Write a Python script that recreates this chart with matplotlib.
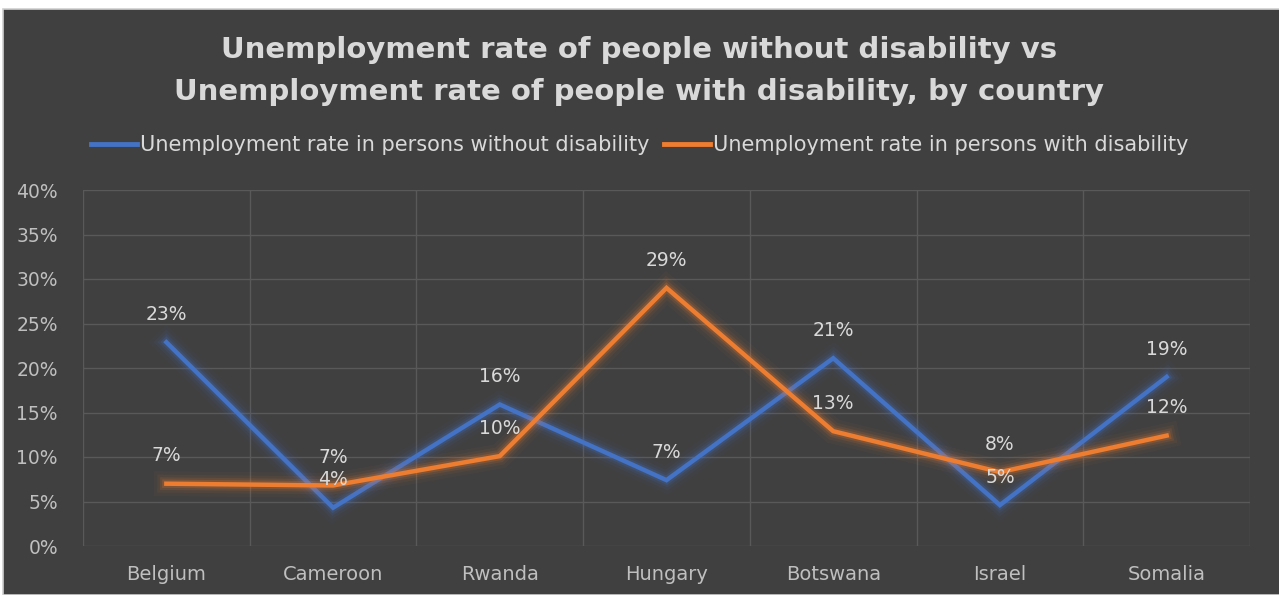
import matplotlib.pyplot as plt
import matplotlib.patheffects as pe
from matplotlib.lines import Line2D
from matplotlib.patches import Rectangle

countries = ["Belgium", "Cameroon", "Rwanda", "Hungary", "Botswana", "Israel", "Somalia"]
without_disability = [0.229, 0.043, 0.159, 0.074, 0.211, 0.046, 0.190]
with_disability = [0.070, 0.068, 0.101, 0.290, 0.129, 0.083, 0.124]
yticks = [0, 0.05, 0.10, 0.15, 0.20, 0.25, 0.30, 0.35, 0.40]

BG = "#404040"
TXT = "#d9d9d9"
BLUE = "#4472c4"
ORANGE = "#ed7d31"

plt.rcParams['font.family'] = ['DejaVu Sans']

fig = plt.figure(figsize=(12.79, 5.95), dpi=100, facecolor="white")

# dark chart panel below the white strip
panel = Rectangle((3 / 1279, 0), 1, (595 - 9) / 595, transform=fig.transFigure,
                  facecolor=BG, edgecolor="#d0d0d0", linewidth=1.2, zorder=-10)
fig.patches.append(panel)

# cut-off caption from the page above the chart (only descenders show)
fig.text(0.025, 1 + 5 / 595, "Key Study by Group: Unemployment by Disability among Countries",
         family="DejaVu Serif", fontweight="bold", fontsize=16, color="black",
         ha="left", va="baseline")

fig.text(0.5, 1 - 50 / 595, "Unemployment rate of people without disability vs",
         ha="center", va="center", fontsize=21, fontweight="bold", color=TXT)
fig.text(0.5, 1 - 92 / 595, "Unemployment rate of people with disability, by country",
         ha="center", va="center", fontsize=21, fontweight="bold", color=TXT)

ax = fig.add_axes([83 / 1279, 1 - 546 / 595, (1250 - 83) / 1279, (546 - 190) / 595])
ax.set_facecolor("none")

x = list(range(len(countries)))


def glow(color):
    return [pe.Stroke(linewidth=18, foreground=color, alpha=0.04),
            pe.Stroke(linewidth=13, foreground=color, alpha=0.07),
            pe.Stroke(linewidth=9, foreground=color, alpha=0.12),
            pe.Stroke(linewidth=6, foreground=color, alpha=0.2),
            pe.Normal()]


ax.plot(x, without_disability, color=BLUE, lw=3.2, solid_joinstyle="miter",
        path_effects=glow(BLUE), zorder=3)
ax.plot(x, with_disability, color=ORANGE, lw=3.2, solid_joinstyle="miter",
        path_effects=glow(ORANGE), zorder=4)

for xi, v in zip(x, without_disability):
    ax.annotate(f"{v * 100:.0f}%", (xi, v), xytext=(0, 20), textcoords="offset points",
                ha="center", va="center", fontsize=13.5, color=TXT, zorder=5)
for xi, v in zip(x, with_disability):
    ax.annotate(f"{v * 100:.0f}%", (xi, v), xytext=(0, 20), textcoords="offset points",
                ha="center", va="center", fontsize=13.5, color=TXT, zorder=5)

ax.set_xlim(-0.5, len(countries) - 0.5)
ax.set_ylim(0, 0.40)
ax.set_yticks(yticks)
ax.set_yticklabels([f"{t * 100:.0f}%" for t in yticks])
ax.set_xticks(x)
ax.set_xticklabels(countries)
ax.set_xticks([i - 0.5 for i in range(len(countries) + 1)], minor=True)

ax.grid(axis="y", color="#595959", lw=1)
ax.grid(axis="x", which="minor", color="#595959", lw=1)
ax.set_axisbelow(True)
for s in ax.spines.values():
    s.set_visible(False)
ax.tick_params(which="both", length=0)
ax.tick_params(axis="y", labelsize=13.5, labelcolor="#bfbfbf", pad=18)
ax.tick_params(axis="x", labelsize=14, labelcolor="#bfbfbf", pad=14)

handles = [Line2D([], [], color=BLUE, lw=3.5),
           Line2D([], [], color=ORANGE, lw=3.5)]
fig.legend(handles, ["Unemployment rate in persons without disability",
                     "Unemployment rate in persons with disability"],
           loc="center", bbox_to_anchor=(0.5, 1 - 145 / 595), ncol=2, frameon=False,
           fontsize=15, labelcolor=TXT, handlelength=2.2, handletextpad=0.15,
           columnspacing=0.7)

fig.savefig("out.png", dpi=100, facecolor=fig.get_facecolor())
